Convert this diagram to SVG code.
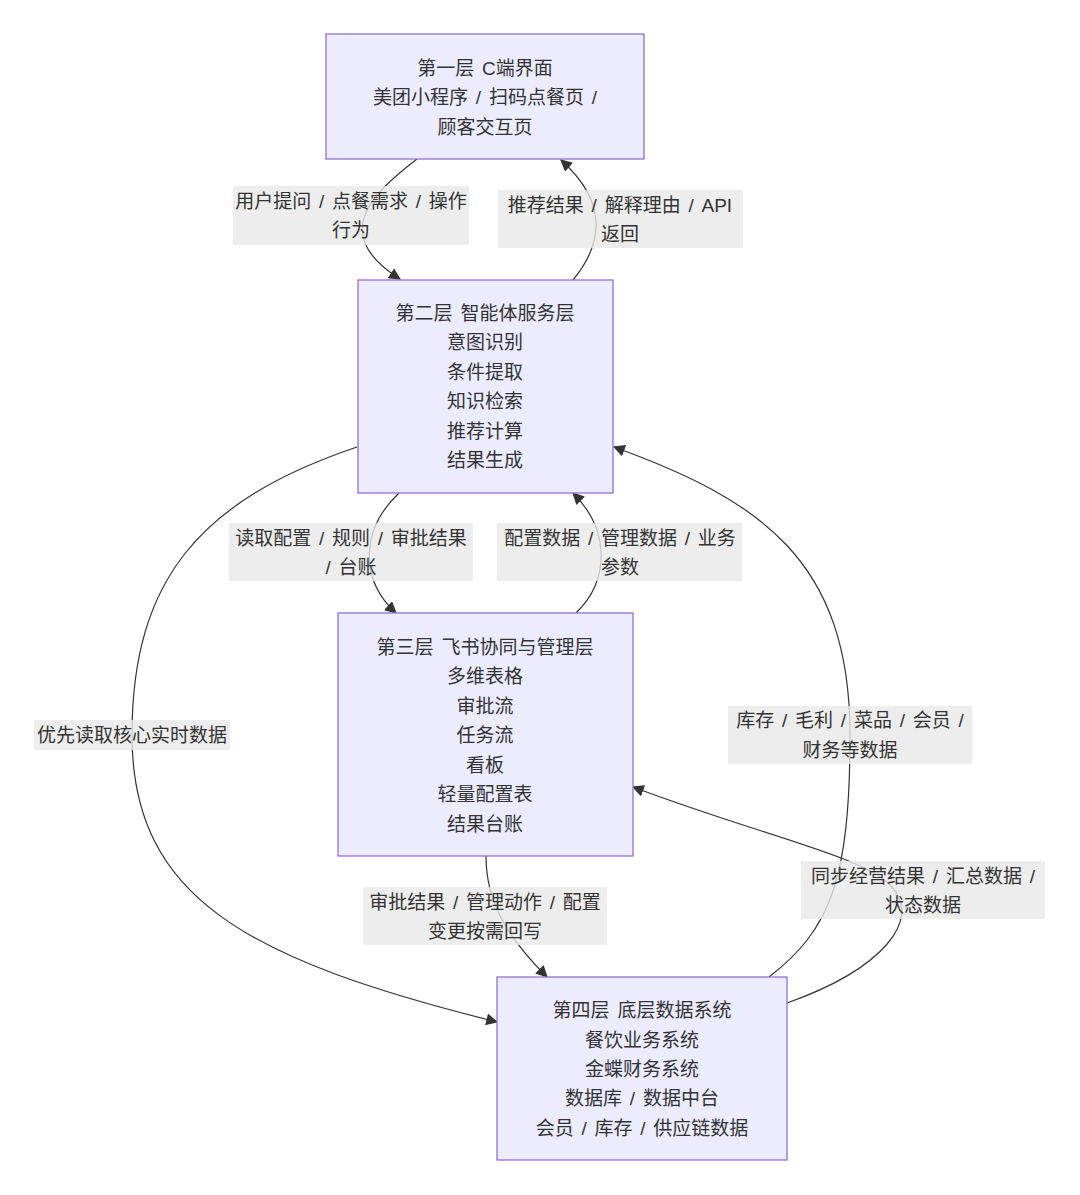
<svg xmlns="http://www.w3.org/2000/svg" width="1080" height="1195" viewBox="0 0 1080 1195">
<defs>
<style>
.node rect{fill:#ECECFF;stroke:#9370DB;stroke-width:1.3}
text{font-family:"Liberation Sans","Noto Sans CJK SC",sans-serif;font-size:19px;fill:#333;text-anchor:middle;dominant-baseline:central;word-spacing:2.5px}
.edge{fill:none;stroke:#333;stroke-width:1.2}
.lbl rect{fill:#e8e8e8;fill-opacity:0.8}
</style>
<marker id="arr" viewBox="0 0 10 10" refX="9" refY="5" markerWidth="12" markerHeight="12" markerUnits="userSpaceOnUse" orient="auto">
<path d="M0,0L10,5L0,10z" fill="#333"/>
</marker>
</defs>
<rect width="1080" height="1195" fill="#fff"/>
<g id="connectors">
<path class="edge" d="M417,159 C370,195 330,235 400,279" marker-end="url(#arr)"/>
<path class="edge" d="M573,280 C610,235 600,195 561,160" marker-end="url(#arr)"/>
<path class="edge" d="M399,493 C360,530 360,580 396,613" marker-end="url(#arr)"/>
<path class="edge" d="M576,613 C610,580 610,530 573,493" marker-end="url(#arr)"/>
<path class="edge" d="M357,447 C200,500 132,580 132,735 C132,900 250,960 497,1022" marker-end="url(#arr)"/>
<path class="edge" d="M769,977 C830,930 850,880 850,735 C850,560 760,500 614,447" marker-end="url(#arr)"/>
<path class="edge" d="M787,1003 C880,970 925,920 890,885 C860,855 760,835 633,787" marker-end="url(#arr)"/>
<path class="edge" d="M486,856 C486,900 505,935 547,977" marker-end="url(#arr)"/>
</g>
<g id="edge-labels">
<g class="lbl"><rect x="233" y="186" width="236" height="59"/><text x="351" y="201">用户提问 / 点餐需求 / 操作</text><text x="351" y="230">行为</text></g>
<g class="lbl"><rect x="498" y="190" width="245" height="58"/><text x="620" y="205">推荐结果 / 解释理由 / API</text><text x="620" y="234">返回</text></g>
<g class="lbl"><rect x="229" y="523" width="244" height="58"/><text x="351" y="538">读取配置 / 规则 / 审批结果</text><text x="351" y="567">/ 台账</text></g>
<g class="lbl"><rect x="497" y="523" width="245" height="58"/><text x="620" y="538">配置数据 / 管理数据 / 业务</text><text x="620" y="567">参数</text></g>
<g class="lbl"><rect x="34" y="720" width="196" height="30"/><text x="132" y="735">优先读取核心实时数据</text></g>
<g class="lbl"><rect x="728" y="706" width="244" height="58"/><text x="850" y="720">库存 / 毛利 / 菜品 / 会员 /</text><text x="850" y="750">财务等数据</text></g>
<g class="lbl"><rect x="801" y="861" width="244" height="58"/><text x="923" y="876">同步经营结果 / 汇总数据 /</text><text x="923" y="905">状态数据</text></g>
<g class="lbl"><rect x="363" y="887" width="244" height="58"/><text x="485" y="902">审批结果 / 管理动作 / 配置</text><text x="485" y="931">变更按需回写</text></g>
</g>
<g id="n1" class="node"><rect x="326" y="34" width="318" height="125"/><text x="485" y="68">第一层 C端界面</text><text x="485" y="97">美团小程序 / 扫码点餐页 /</text><text x="485" y="127">顾客交互页</text></g>
<g id="n2" class="node"><rect x="358" y="280" width="255" height="213"/><text x="485" y="313">第二层 智能体服务层</text><text x="485" y="342">意图识别</text><text x="485" y="372">条件提取</text><text x="485" y="401">知识检索</text><text x="485" y="431">推荐计算</text><text x="485" y="460">结果生成</text></g>
<g id="n3" class="node"><rect x="338" y="613" width="295" height="243"/><text x="485" y="647">第三层 飞书协同与管理层</text><text x="485" y="676">多维表格</text><text x="485" y="706">审批流</text><text x="485" y="735">任务流</text><text x="485" y="765">看板</text><text x="485" y="794">轻量配置表</text><text x="485" y="824">结果台账</text></g>
<g id="n4" class="node"><rect x="497" y="977" width="290" height="183"/><text x="642" y="1010">第四层 底层数据系统</text><text x="642" y="1040">餐饮业务系统</text><text x="642" y="1069">金蝶财务系统</text><text x="642" y="1098">数据库 / 数据中台</text><text x="642" y="1128">会员 / 库存 / 供应链数据</text></g>
</svg>
